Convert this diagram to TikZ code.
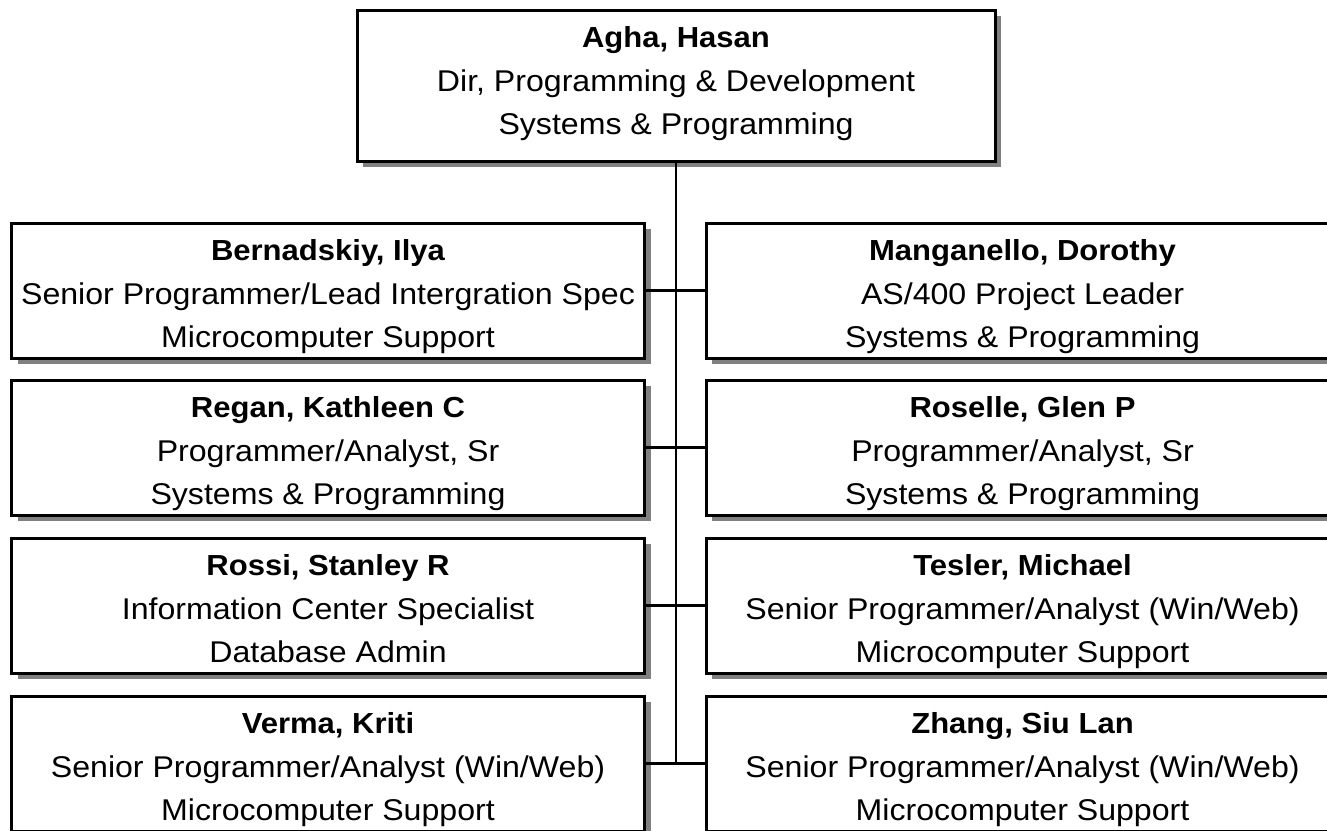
\documentclass[tikz,border=0pt]{standalone}
\usepackage{fontspec}
\setmainfont{Liberation Sans}[FakeStretch=1.07]
\usetikzlibrary{shadows}
\definecolor{shadowgray}{HTML}{808080}
\tikzset{
  personbox/.style={draw, line width=3pt, fill=white, inner sep=0pt, outer sep=0pt,
    drop shadow={shadow xshift=6pt, shadow yshift=-6pt, opacity=1, fill=shadowgray}},
  txt/.style={anchor=base, inner sep=0pt, font=\fontsize{30}{36}\selectfont},
  nametxt/.style={anchor=base, inner sep=0pt, font=\fontsize{29}{35}\selectfont\bfseries},
  conn/.style={line width=2.5pt}
}
\newcommand\orgperson[8]{%
  \node[personbox, minimum width=#4pt, minimum height=#5pt] (#1) at (#2,#3+#5/2) {};
  \node[nametxt] (#1-n) at (#2,#3+37.5) {#6};
  \node[txt] (#1-a) at (#2,#3+81) {#7};
  \node[txt] (#1-b) at (#2,#3+124.5) {#8};
}
\begin{document}
\begin{tikzpicture}[x=1pt,y=-1pt]
\useasboundingbox (0,0) rectangle (1327,830);
\clip (0,0) rectangle (1327,830);
\fill[white] (0,0) rectangle (1327,830);
\orgperson{top}{676}{10}{638}{151}{Agha, Hasan}{Dir, Programming \& Development}{Systems \& Programming}
\orgperson{L1}{328}{223}{633}{135}{Bernadskiy, Ilya}{Senior Programmer/Lead Intergration Spec}{Microcomputer Support}
\orgperson{R1}{1022.5}{223}{633}{135}{Manganello, Dorothy}{AS/400 Project Leader}{Systems \& Programming}
\orgperson{L2}{328}{380}{633}{135}{Regan, Kathleen C}{Programmer/Analyst, Sr}{Systems \& Programming}
\orgperson{R2}{1022.5}{380}{633}{135}{Roselle, Glen P}{Programmer/Analyst, Sr}{Systems \& Programming}
\orgperson{L3}{328}{538}{633}{135}{Rossi, Stanley R}{Information Center Specialist}{Database Admin}
\orgperson{R3}{1022.5}{538}{633}{135}{Tesler, Michael}{Senior Programmer/Analyst (Win/Web)}{Microcomputer Support}
\orgperson{L4}{328}{696}{633}{135}{Verma, Kriti}{Senior Programmer/Analyst (Win/Web)}{Microcomputer Support}
\orgperson{R4}{1022.5}{696}{633}{135}{Zhang, Siu Lan}{Senior Programmer/Analyst (Win/Web)}{Microcomputer Support}
\coordinate (j4) at (676,763.5);
\draw[conn] (top.south) -- (j4);
\draw[conn] (L1.east) -- (R1.west);
\draw[conn] (L2.east) -- (R2.west);
\draw[conn] (L3.east) -- (R3.west);
\draw[conn] (L4.east) -- (R4.west);
\end{tikzpicture}
\end{document}
